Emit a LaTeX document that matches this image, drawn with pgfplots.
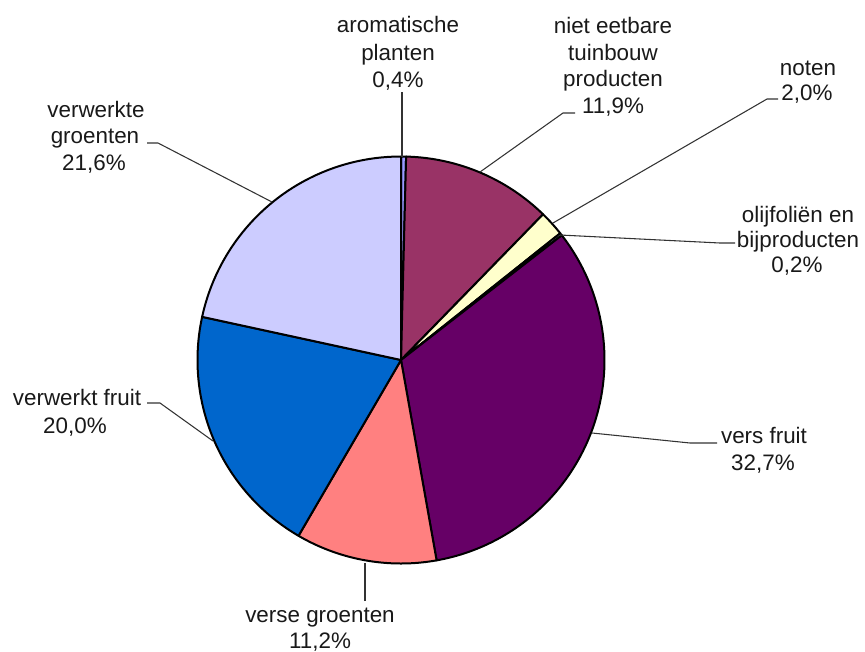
\documentclass[border=0pt]{standalone}
\usepackage{pgfplots}
\pgfplotsset{compat=1.18}
\usepackage{fontspec}
\setmainfont{Liberation Sans}
\definecolor{cA}{HTML}{9999FF}
\definecolor{cB}{HTML}{993366}
\definecolor{cC}{HTML}{FFFFCC}
\definecolor{cD}{HTML}{CCFFFF}
\definecolor{cE}{HTML}{660066}
\definecolor{cF}{HTML}{FF8080}
\definecolor{cG}{HTML}{0066CC}
\definecolor{cH}{HTML}{CCCCFF}
\newcommand{\lblfont}{\fontsize{16.8}{20}\selectfont}
% #1 cumulative start (%), #2 share (%), #3 colour
\newcommand{\slice}[3]{%
  \pgfmathsetmacro\angA{90-3.6*#1}%
  \pgfmathsetmacro\angB{90-3.6*(#1+#2)}%
  \edef\doslice{\noexpand\addplot[draw=black, line width=1.5pt, line join=round, fill=#3, domain=\angB:\angA, samples=120] ({401+203.5*cos(x)},{360-203.5*sin(x)}) -- (axis cs:401,360) -- cycle;}%
  \doslice}
\newcommand{\lb}[3]{\node[anchor=base, inner sep=0pt, font=\lblfont, text=black!90] at (axis cs:#1,#2) {#3};}
\begin{document}
\begin{tikzpicture}
\begin{axis}[scale only axis, width=648.75pt, height=488.25pt,
  xmin=0, xmax=865, ymin=0, ymax=651, y dir=reverse,
  hide axis, clip=false]
\slice{0}{0.4}{cA}
\slice{0.4}{11.9}{cB}
\slice{12.3}{2.0}{cC}
\slice{14.3}{0.2}{cD}
\slice{14.5}{32.7}{cE}
\slice{47.2}{11.2}{cF}
\slice{58.4}{20.0}{cG}
\slice{78.4}{21.6}{cH}
% leader lines
\draw[black!80, line width=0.8pt] (axis cs:402,92) -- (axis cs:402,157);
\draw[black!80, line width=0.8pt] (axis cs:575,113) -- (axis cs:563,113) -- (axis cs:480,172);
\draw[black!80, line width=0.8pt] (axis cs:778,99) -- (axis cs:767,99) -- (axis cs:553,223);
\draw[black!80, line width=0.8pt] (axis cs:735,243) -- (axis cs:720,243) -- (axis cs:560,235);
\draw[black!80, line width=0.8pt] (axis cs:717,443) -- (axis cs:690,443) -- (axis cs:592,433);
\draw[black!80, line width=0.8pt] (axis cs:365,601) -- (axis cs:365,563);
\draw[black!80, line width=0.8pt] (axis cs:147,403) -- (axis cs:160,403) -- (axis cs:213,441);
\draw[black!80, line width=0.8pt] (axis cs:147,143) -- (axis cs:158,143) -- (axis cs:272,202);
% labels
\lb{398}{32}{aromatische}
\lb{398}{60}{planten}
\lb{398}{87}{0,4\%}
\lb{613}{33}{niet eetbare}
\lb{613}{60}{tuinbouw}
\lb{613}{86}{producten}
\lb{613}{113}{11,9\%}
\lb{808}{75}{noten}
\lb{807}{100}{2,0\%}
\lb{798}{222}{olijfoliën en}
\lb{798}{247}{bijproducten}
\lb{797}{272}{0,2\%}
\lb{764}{443}{vers fruit}
\lb{763}{470}{32,7\%}
\lb{320}{622}{verse groenten}
\lb{320}{648}{11,2\%}
\lb{77}{405}{verwerkt fruit}
\lb{75}{433}{20,0\%}
\lb{96}{117}{verwerkte}
\lb{95}{143}{groenten}
\lb{94}{170}{21,6\%}
\end{axis}
\pgfresetboundingbox
\path (current axis.south west) rectangle (current axis.north east);
\end{tikzpicture}
\end{document}
